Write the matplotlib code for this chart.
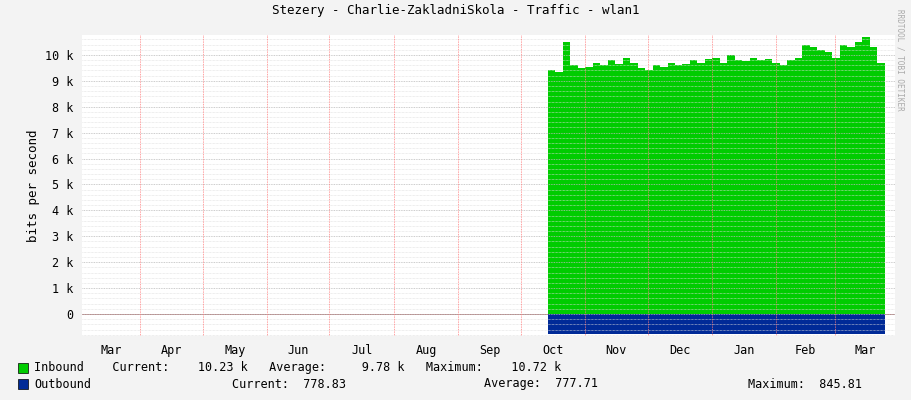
import matplotlib
matplotlib.use("Agg")
import matplotlib.pyplot as plt
import numpy as np

# days counted from the left edge of the graph (early March)
month_names = ["Mar", "Apr", "May", "Jun", "Jul", "Aug", "Sep", "Oct", "Nov", "Dec", "Jan", "Feb", "Mar"]
month_days = [28, 30, 31, 30, 31, 31, 30, 31, 30, 31, 31, 28]  # lengths up to each month-start line

# inbound samples (bits/s), roughly every 4 days from mid-September
in_start = 224
in_step = 3.6
inbound = [9400, 9350, 10500, 9600, 9500, 9550, 9700, 9600, 9800, 9650, 9900, 9700,
           9500, 9400, 9600, 9550, 9700, 9600, 9650, 9800, 9700, 9850, 9900, 9700,
           10000, 9800, 9750, 9900, 9800, 9850, 9700, 9600, 9800, 9900, 10400, 10300,
           10200, 10100, 9900, 10400, 10300, 10500, 10700, 10300, 9700]
outbound = [778] * len(inbound)

days = in_start + in_step * np.arange(len(inbound))

bounds = np.cumsum(month_days)
edges = np.concatenate([[0], bounds, [391]])
centers = (edges[:-1] + edges[1:]) / 2

plt.rcParams["font.family"] = "DejaVu Sans Mono"
plt.rcParams["font.size"] = 8.5

fig = plt.figure(figsize=(9.11, 4.0), dpi=100, facecolor="#f3f3f3")
ax = fig.add_axes([82 / 911, 64 / 400, 813 / 911, 301 / 400])
ax.set_facecolor("white")

x_edges = np.append(days, days[-1] + in_step)
ax.stairs(inbound, x_edges, baseline=0, fill=True, color="#00cc00", lw=0)
ax.stairs(-np.array(outbound), x_edges, baseline=0, fill=True, color="#002a97", lw=0)

ax.set_xlim(0, 391)
ax.set_ylim(-850, 10770)
ax.set_yticks(np.arange(0, 10001, 1000))
ax.set_yticklabels(["0"] + [f"{k} k" for k in range(1, 11)])
ax.set_yticks(np.arange(-800, 10770, 200), minor=True)
ax.set_xticks(centers)
ax.set_xticklabels(month_names)
ax.tick_params(which="both", length=0, pad=6)
ax.grid(which="minor", axis="y", color="#dddddd", lw=0.5, ls=(0, (1, 1)))
ax.grid(which="major", axis="y", color="#bbbbbb", lw=0.6, ls=(0, (1, 1)))
for b in bounds:
    ax.axvline(b, color="#ff8080", lw=0.6, ls=(0, (1, 1)))
for s in ax.spines.values():
    s.set_visible(False)
ax.axhline(0, color="#b07070", lw=0.6, zorder=0)
ax.set_ylabel("bits per second", fontsize=9)

fig.text(0.5, 0.965, "Stezery - Charlie-ZakladniSkola - Traffic - wlan1", ha="center", fontsize=9)
fig.text(0.988, 0.85, "RRDTOOL / TOBI OETIKER", rotation=270, ha="center", va="center", fontsize=5.5, color="#aaaaaa")

fig.patches.append(plt.Rectangle((18 / 911, 1 - 373 / 400), 10 / 911, 10 / 400, transform=fig.transFigure,
                                 facecolor="#00cc00", edgecolor="black", lw=0.5))
fig.patches.append(plt.Rectangle((18 / 911, 1 - 389 / 400), 10 / 911, 10 / 400, transform=fig.transFigure,
                                 facecolor="#002a97", edgecolor="black", lw=0.5))
fig.text(34 / 911, 1 - 368 / 400, "Inbound    Current:    10.23 k   Average:     9.78 k   Maximum:    10.72 k",
         va="center", fontsize=8.5)
fig.text(34 / 911, 1 - 384 / 400, "Outbound", va="center", fontsize=8.5)
fig.text(232 / 911, 1 - 384 / 400, "Current:  778.83", va="center", fontsize=8.5)
fig.text(484 / 911, 1 - 384 / 400, "Average:  777.71", va="center", fontsize=8.5)
fig.text(748 / 911, 1 - 384 / 400, "Maximum:  845.81", va="center", fontsize=8.5)

fig.savefig("out.png", dpi=100, facecolor=fig.get_facecolor())
